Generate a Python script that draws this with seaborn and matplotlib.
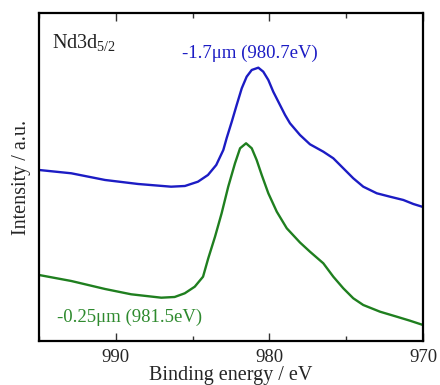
import numpy as np
import pandas as pd
import matplotlib
matplotlib.use("Agg")
import matplotlib.pyplot as plt
import seaborn as sns
from matplotlib.ticker import MultipleLocator

# Nd3d5/2 spectra (binding energy in eV, intensity a.u.)
be_deep = [995.0, 992.9, 990.7, 988.55, 986.4, 985.5, 984.65, 984.0, 983.46, 983.0,
           982.78, 982.45, 982.13, 981.8, 981.48, 981.15, 980.72, 980.4, 980.07, 979.75,
           979.42, 978.98, 978.66, 978.01, 977.36, 976.49, 975.84, 975.19, 974.54, 973.89,
           973.01, 972.15, 971.28, 970.63, 970.0]
int_deep = [171, 167.7, 161, 157, 154.3, 155, 159.3, 166, 176, 191,
            203, 219.3, 236, 252.7, 264.3, 271, 273.3, 269.3, 261, 249.3,
            239.3, 226, 217.7, 206, 196.7, 189.3, 182.7, 172.7, 162.7, 154.3,
            147.7, 144.3, 141, 137, 134]

be_shallow = [995.0, 992.9, 990.7, 989.0, 987.04, 986.17, 985.51, 984.86, 984.32, 983.98,
              983.54, 983.11, 982.68, 982.24, 981.91, 981.52, 981.15, 980.83, 980.5, 980.07,
              979.52, 978.87, 978.01, 977.36, 976.49, 975.84, 975.19, 974.54, 973.89, 972.8,
              971.71, 970.85, 970.0]
int_shallow = [66, 60, 52, 46.7, 43.3, 44, 47.7, 54.3, 64.3, 82.7,
               104.3, 127.7, 154.3, 177.7, 192.7, 197.7, 192.7, 181, 166, 147.7,
               129.3, 112.7, 98.5, 89.3, 77.7, 64.3, 52.7, 42.7, 36, 29.3,
               24.3, 20.3, 16]

labels = ["-1.7\u03bcm (980.7eV)", "-0.25\u03bcm (981.5eV)"]
colors = ["#1c1cc4", "#1f7f1f"]

df = pd.concat([
    pd.DataFrame({"be": be_deep, "intensity": int_deep, "depth": labels[0]}),
    pd.DataFrame({"be": be_shallow, "intensity": int_shallow, "depth": labels[1]}),
])

sns.set_style("ticks")
plt.rcParams["font.family"] = ["Liberation Serif", "DejaVu Serif"]
plt.rcParams["mathtext.fontset"] = "custom"
plt.rcParams["mathtext.rm"] = "Liberation Serif"
plt.rcParams["mathtext.it"] = "Liberation Serif"

fig = plt.figure(figsize=(4.4, 3.85), dpi=100)
ax = fig.add_axes([0.0886, 0.1143, 0.8728, 0.852])

sns.lineplot(data=df, x="be", y="intensity", hue="depth", palette=colors,
             sort=False, estimator=None, linewidth=1.7, legend=False, ax=ax)

ax.set_xlim(995, 970)
ax.set_ylim(0, 328)
ax.xaxis.set_major_locator(MultipleLocator(10))
ax.xaxis.set_minor_locator(MultipleLocator(5))
ax.set_yticks([])
ax.tick_params(axis="x", which="both", direction="in", top=True, labelsize=13.5,
               color="#333333", pad=6)
ax.tick_params(axis="x", which="major", length=6, width=1)
ax.tick_params(axis="x", which="minor", length=3.5, width=1)
for s in ax.spines.values():
    s.set_linewidth(1.6)
    s.set_color("black")

ax.set_xlabel("Binding energy / eV", fontsize=14.5, labelpad=0)
ax.set_ylabel("Intensity / a.u.", fontsize=14.5, labelpad=6)

ax.text(0.035, 0.91, "Nd3d$_{5/2}$", transform=ax.transAxes, fontsize=14.5,
        ha="left", va="center", color="#222222")
ax.text(981.25, 288, labels[0], fontsize=13.5, ha="center", va="center",
        color=colors[0])
ax.text(989.1, 24, labels[1], fontsize=13.5, ha="center", va="center",
        color="#2e8a2e")

fig.savefig("out.png", dpi=100)
